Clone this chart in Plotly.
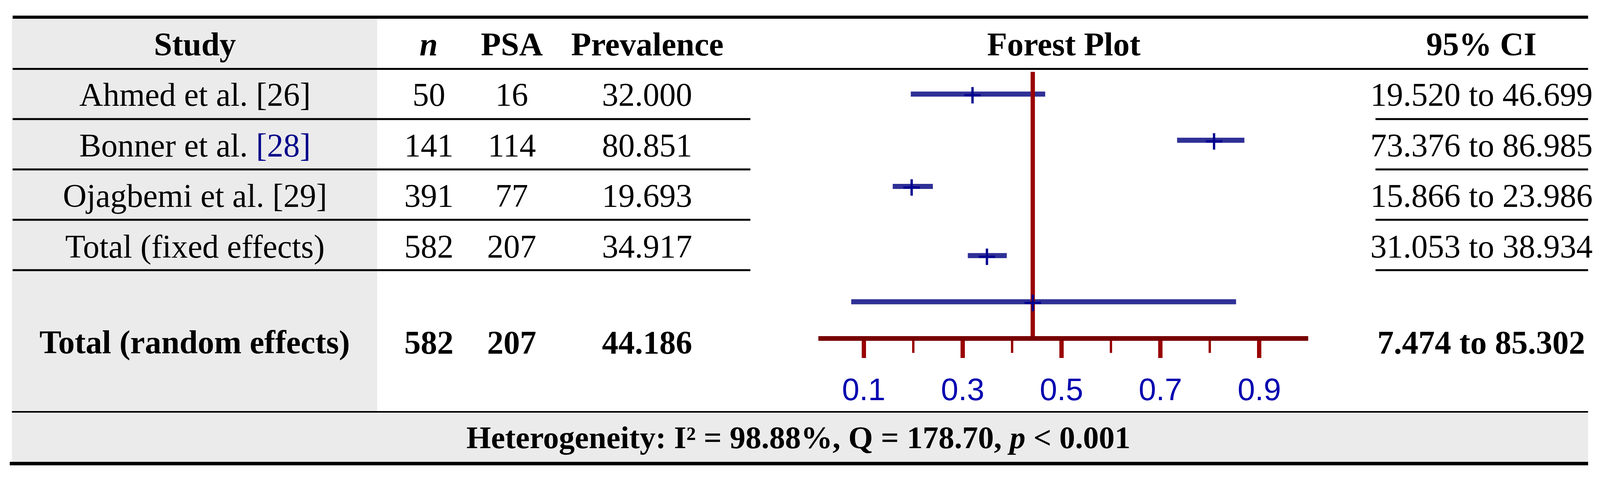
import plotly.graph_objects as go

# ---------------- data ----------------
studies = ["Ahmed et al.", "Bonner et al.", "Ojagbemi et al."]
refs = ["[26]", "[28]", "[29]"]
ref_is_link = [False, True, False]
n_vals = [50, 141, 391]
psa_vals = [16, 114, 77]
prev_vals = [32.000, 80.851, 19.693]
ci_low = [19.520, 73.376, 15.866]
ci_high = [46.699, 86.985, 23.986]

total_labels = ["Total (fixed effects)", "Total (random effects)"]
total_n = [582, 582]
total_psa = [207, 207]
total_prev = [34.917, 44.186]
total_ci_low = [31.053, 7.474]
total_ci_high = [38.934, 85.302]

het_I2 = 98.88
het_Q = 178.70
het_p = "&lt; 0.001"

headers = ["Study", "<i>n</i>", "PSA", "Prevalence", "Forest Plot", "95% CI"]
tick_vals = [0.1, 0.3, 0.5, 0.7, 0.9]
tick_text = ["0.1", "0.3", "0.5", "0.7", "0.9"]
minor_tick_vals = [0.2, 0.4, 0.6, 0.8]

# ---------------- layout constants ----------------
REF_W, H = 4433, 1227      # reference picture geometry (positions given in these units)
FIG_W = 4096               # actual browser viewport width
SERIF = "Liberation Serif"
FS = 84
FS_HET = 81
GRAY = "#EBEBEB"

def px(x):
    return x / REF_W

def py(y):
    return 1 - y / H

col_x = {"study": 540, "n": 1188, "psa": 1418, "prev": 1793, "forest": 2948, "ci": 4104}
header_y = 114
row_y = [243, 372, 501.5, 631.5, 877]
het_y = 1121

# forest plot slots (rows in forest panel)
slots = [0, 1, 2, 3.5, 4.5]
slot_top, slot_bottom = -0.482, 5.245
forest_top_px, forest_bottom_px = 184, 861
forest_left_px, forest_right_px = 2267, 3624

fig = go.Figure()

# CI bars
all_lo = [v / 100 for v in ci_low + total_ci_low]
all_hi = [v / 100 for v in ci_high + total_ci_high]
all_est = [v / 100 for v in prev_vals + total_prev]
bx, by = [], []
for lo, hi, s in zip(all_lo, all_hi, slots):
    bx += [lo, hi, None]
    by += [s, s, None]
fig.add_trace(go.Scatter(x=bx, y=by, mode="lines",
                         line=dict(color="#2F3096", width=13),
                         hoverinfo="skip", showlegend=False))

# pooled (random effects) reference line
fig.add_trace(go.Scatter(x=[total_prev[1] / 100, total_prev[1] / 100],
                         y=[slot_top, slot_bottom], mode="lines",
                         line=dict(color="#990000", width=11),
                         hoverinfo="skip", showlegend=False))

# point estimates
fig.add_trace(go.Scatter(x=all_est, y=[s + 0.025 for s in slots], mode="markers",
                         marker=dict(symbol="cross-thin", size=30,
                                     line=dict(color="#000090", width=6)),
                         hoverinfo="skip", showlegend=False))

shapes = []
def rect(x0, y0, x1, y1, color, layer="below"):
    shapes.append(dict(type="rect", xref="paper", yref="paper",
                       x0=px(x0), x1=px(x1), y0=py(y1), y1=py(y0),
                       fillcolor=color, line=dict(width=0), layer=layer))

# gray backgrounds
rect(33, 48, 1045, 1055, GRAY)
rect(33, 1057, 4400, 1183, GRAY)
# rules
rect(35, 40, 4400, 48, "black", "above")
rect(35, 174, 4400, 179, "black", "above")
for yy in [305, 434, 563, 692]:
    rect(35, yy - 2.5, 2079, yy + 2.5, "black", "above")
    rect(3811, yy - 2.5, 4400, yy + 2.5, "black", "above")
rect(33, 1053, 4400, 1057, "black", "above")
rect(27, 1183, 4400, 1192, "black", "above")

annotations = []
def txt(x, y, s, bold=False, color="black", size=FS):
    if bold:
        s = "<b>" + s + "</b>"
    annotations.append(dict(xref="paper", yref="paper", x=px(x), y=py(y),
                            text=s, showarrow=False, xanchor="center", yanchor="middle",
                            font=dict(family=SERIF, size=size, color=color)))

for key, h in zip(["study", "n", "psa", "prev", "forest", "ci"], headers):
    txt(col_x[key], header_y, h, bold=True)

for i in range(3):
    ref = refs[i]
    if ref_is_link[i]:
        ref = "<span style='color:#00008B'>" + ref + "</span>"
    txt(col_x["study"], row_y[i], studies[i] + " " + ref)
    txt(col_x["n"], row_y[i], str(n_vals[i]))
    txt(col_x["psa"], row_y[i], str(psa_vals[i]))
    txt(col_x["prev"], row_y[i], f"{prev_vals[i]:.3f}")
    txt(col_x["ci"], row_y[i], f"{ci_low[i]:.3f} to {ci_high[i]:.3f}")

for j in range(2):
    b = (j == 1)
    y = row_y[3 + j]
    txt(col_x["study"], y, total_labels[j], bold=b)
    txt(col_x["n"], y, str(total_n[j]), bold=b)
    txt(col_x["psa"], y, str(total_psa[j]), bold=b)
    txt(col_x["prev"], y, f"{total_prev[j]:.3f}", bold=b)
    txt(col_x["ci"], y, f"{total_ci_low[j]:.3f} to {total_ci_high[j]:.3f}", bold=b)

txt(2212, het_y, f"Heterogeneity: I² = {het_I2:.2f}%, Q = {het_Q:.2f}, <i>p</i> {het_p}",
    bold=True, size=FS_HET)

fig.update_layout(
    width=FIG_W, height=H,
    margin=dict(l=0, r=0, t=0, b=0),
    paper_bgcolor="white", plot_bgcolor="rgba(0,0,0,0)",
    template="none",
    showlegend=False,
    shapes=shapes,
    annotations=annotations,
    xaxis=dict(domain=[px(forest_left_px), px(forest_right_px)],
               range=[0.008, 0.9985],
               showline=True, linewidth=12, linecolor="#770000",
               ticks="outside", ticklen=44, tickwidth=11, tickcolor="#990000",
               tickvals=tick_vals, ticktext=tick_text,
               tickfont=dict(family="Liberation Sans", size=80, color="#0000B0"),
               ticklabelstandoff=12,
               minor=dict(tickvals=minor_tick_vals, ticks="outside", ticklen=31,
                          tickwidth=6, tickcolor="#990000", showgrid=False),
               showgrid=False, zeroline=False, fixedrange=True),
    yaxis=dict(domain=[py(forest_bottom_px), py(forest_top_px)],
               range=[slot_bottom, slot_top],
               visible=False, showgrid=False, zeroline=False, fixedrange=True),
)

js = """
document.body.style.margin='0';
var gd = document.getElementsByClassName('plotly-graph-div')[0];
if (window.innerWidth && Math.abs(window.innerWidth - %d) > 2) {
  Plotly.relayout(gd, {width: window.innerWidth});
}
""" % FIG_W
fig.write_html("out.html", post_script=js, config={"displayModeBar": False})
